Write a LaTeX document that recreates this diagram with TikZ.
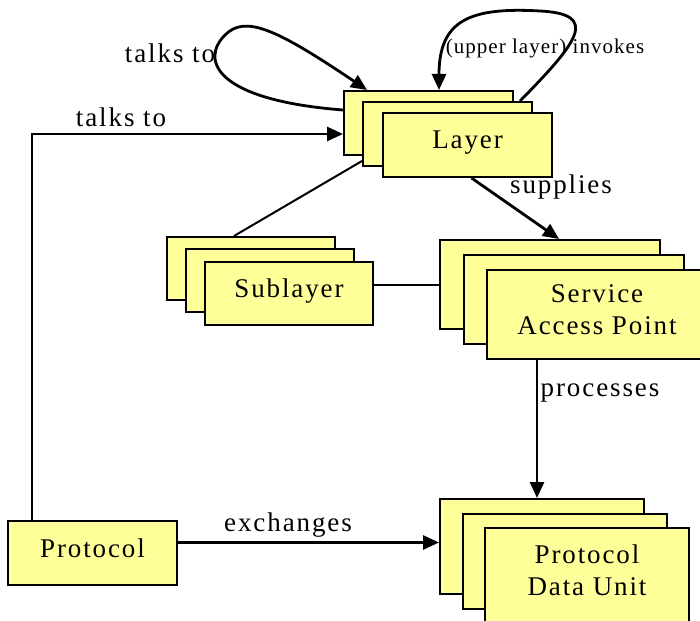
\documentclass[tikz,border=0pt]{standalone}
\usepackage{fontspec}
\setmainfont{Liberation Serif}[LetterSpace=7]
\newfontfamily\smallfont{Liberation Serif}[LetterSpace=5]
\usetikzlibrary{arrows.meta}
\definecolor{boxfill}{RGB}{255,255,153}
\tikzset{
  box/.style={draw=black, line width=2pt, fill=boxfill, rectangle, inner sep=0pt,
    anchor=north west, align=center, text depth=10pt, font=\fontsize{27}{32}\selectfont},
  arr/.style={line width=2.8pt, -{Triangle[length=16pt,width=14pt]}},
  plain/.style={line width=2pt},
  lbl/.style={font=\fontsize{27}{30}\selectfont, inner sep=0pt},
}
\begin{document}
\begin{tikzpicture}[x=1pt,y=-1pt]
\useasboundingbox (0,0) rectangle (700,620);
% Layer stack
\node[box, minimum width=169pt, minimum height=64pt] (layer3) at (343,90) {};
\node[box, minimum width=169pt, minimum height=64pt] (layer2) at (362,101) {};
\node[box, minimum width=169pt, minimum height=64pt] (layer1) at (382,112) {Layer};
% Sublayer stack
\node[box, minimum width=168pt, minimum height=63pt] (sub3) at (166,236) {};
\node[box, minimum width=168pt, minimum height=63pt] (sub2) at (185,248) {};
\node[box, minimum width=168pt, minimum height=63pt] (sub1) at (204,261) {Sublayer};
% SAP stack
\node[box, minimum width=220pt, minimum height=89pt] (sap3) at (439,239) {};
\node[box, minimum width=220pt, minimum height=89pt] (sap2) at (463,254) {};
\node[box, minimum width=220pt, minimum height=89pt] (sap1) at (486,269) {Service\\Access Point};
% PDU stack
\node[box, minimum width=204pt, minimum height=95pt] (pdu3) at (439,498) {};
\node[box, minimum width=204pt, minimum height=95pt] (pdu2) at (462,513) {};
\node[box, minimum width=204pt, minimum height=95pt] (pdu1) at (484,527) {Protocol\\Data Unit};
% Protocol
\node[box, minimum width=169pt, minimum height=64pt] (proto) at (7,520) {Protocol};

\coordinate (pduin) at ([yshift=4pt]pdu3.west);

% self loop talks to
\draw[arr] ([yshift=-20pt]layer3.north west) .. controls (215,100) and (200,60) .. (225,35)
  .. controls (245,15) and (275,28) .. ([xshift=24pt]layer3.north west);
\node[lbl] (l1) at (170,53) {talks to};
% self loop upper layer invokes
\draw[arr] ([xshift=-13pt]layer2.north east) .. controls (578,42) and (600,14) .. (540,11)
  .. controls (470,7) and (439,20) .. ([xshift=96pt]layer3.north west);
\node[inner sep=0pt, font=\smallfont\fontsize{21}{24}\selectfont] (l2) at (545,48) {(upper layer) invokes};
% protocol to layer
\draw[arr] ([xshift=25pt]proto.north west) |- ([yshift=-11pt]layer3.west);
\node[lbl] (l3) at (121,117) {talks to};
% layer to sap
\draw[arr] ([xshift=4pt]layer1.south) -- ([xshift=9pt]sap3.north);
\node[lbl] (l4) at (561,187) {supplies};
% layer to sublayer
\draw[plain] ([yshift=6pt]layer2.south west) -- ([xshift=-17pt]sub3.north);
% sublayer to sap
\draw[plain] (sub1.east |- sap3.west) -- (sap3.west);
% sap to pdu
\draw[arr] ([xshift=-5pt]pdu3.north |- sap1.south) -- ([xshift=-5pt]pdu3.north);
\node[lbl] (l5) at (600,393) {processes};
% protocol to pdu
\draw[arr] (proto.east |- pduin) -- (pduin);
\node[lbl] (l6) at (288,525) {exchanges};
\end{tikzpicture}
\end{document}
